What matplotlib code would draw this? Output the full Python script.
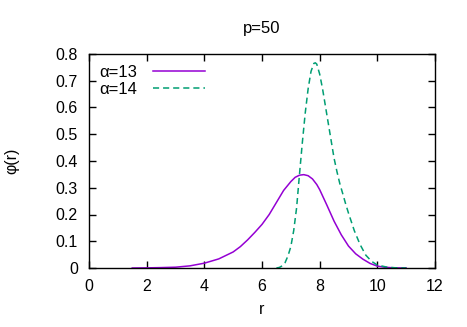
import numpy as np
import matplotlib
matplotlib.use("Agg")
import matplotlib.pyplot as plt

plt.rcParams['font.family'] = ['Liberation Sans', 'DejaVu Sans']
plt.rcParams['font.size'] = 11.5

# alpha = 13 curve
r13 = [1.5, 2.0, 2.5, 3.0, 3.5, 4.0, 4.5, 5.0, 5.25, 5.5, 5.75, 6.0, 6.25, 6.5, 6.75,
       7.0, 7.15, 7.3, 7.45, 7.6, 7.75, 7.9, 8.0, 8.25, 8.5, 8.75, 9.0, 9.25, 9.5, 9.75,
       10.0, 10.25, 10.5, 10.75, 11.0]
phi13 = [0.0, 0.0005, 0.0015, 0.003, 0.008, 0.018, 0.034, 0.06, 0.08, 0.105, 0.133,
         0.163, 0.2, 0.245, 0.29, 0.323, 0.339, 0.347, 0.349, 0.345, 0.333, 0.312,
         0.293, 0.235, 0.175, 0.124, 0.082, 0.053, 0.033, 0.017, 0.007, 0.003, 0.001,
         0.0003, 0.0]

# alpha = 14 curve
r14 = [6.5, 6.6, 6.7, 6.8, 6.9, 7.0, 7.1, 7.2, 7.3, 7.4, 7.5, 7.6, 7.7, 7.8, 7.85,
       7.9, 8.0, 8.1, 8.2, 8.3, 8.4, 8.5, 8.6, 8.7, 8.8, 8.9, 9.0, 9.2, 9.4, 9.6, 9.8,
       10.0, 10.3, 10.6, 11.0]
phi14 = [0.0, 0.002, 0.008, 0.02, 0.045, 0.08, 0.14, 0.225, 0.35, 0.47, 0.58, 0.67,
         0.735, 0.765, 0.767, 0.762, 0.725, 0.67, 0.605, 0.54, 0.475, 0.41, 0.36,
         0.315, 0.278, 0.24, 0.205, 0.14, 0.088, 0.048, 0.025, 0.011, 0.004, 0.001, 0.0]

fig = plt.figure(figsize=(4.67, 3.27), dpi=100)
ax = fig.add_axes([89 / 467, 1 - 268 / 327, 346 / 467, 214 / 327])

ax.plot(r13, phi13, color='#9400D3', lw=1.1, label='α=13')
ax.plot(r14, phi14, color='#009E73', lw=1.1, dashes=(4, 2.6), label='α=14')

ax.set_xlim(0, 12)
ax.set_ylim(0, 0.8)
ax.set_xticks(np.arange(0, 13, 2))
ax.set_yticks(np.arange(0, 0.81, 0.1))
ax.set_yticklabels(['0', '0.1', '0.2', '0.3', '0.4', '0.5', '0.6', '0.7', '0.8'])
ax.tick_params(direction='in', top=True, right=True, length=5, width=1)
ax.tick_params(axis='x', pad=8)
ax.tick_params(axis='y', pad=8)
for s in ax.spines.values():
    s.set_linewidth(1)

ax.set_xlabel('r', labelpad=6)
ax.set_ylabel('φ(r)', labelpad=26)
ax.set_title('p=50', fontsize=12, pad=15)

leg = ax.legend(loc='upper left', frameon=False, handlelength=3.1, markerfirst=False,
                borderaxespad=0.0, borderpad=0.4, labelspacing=0.1, handletextpad=0.95,
                fontsize=12, bbox_to_anchor=(0.01, 0.98))

fig.savefig('out.png', dpi=100)
